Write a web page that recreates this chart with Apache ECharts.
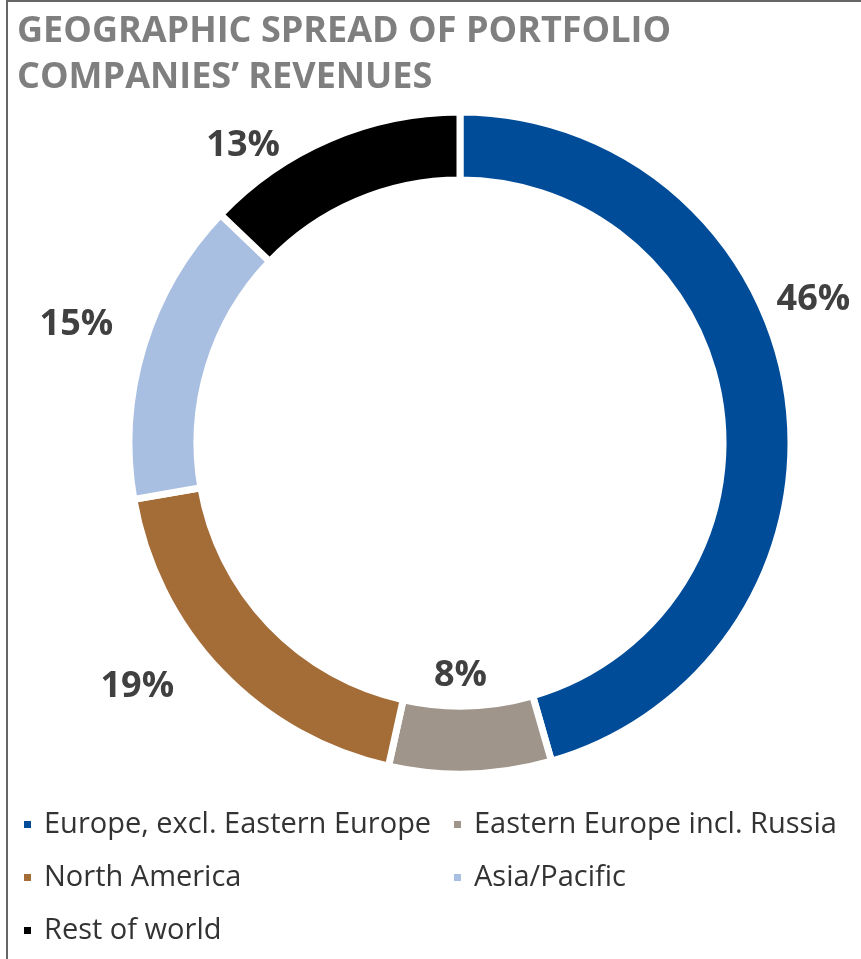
<!DOCTYPE html>
<html>
<head>
<meta charset="utf-8">
<script src="https://cdn.jsdelivr.net/npm/echarts@6/dist/echarts.min.js"></script>
<style>
  html, body { margin: 0; padding: 0; background: #fff; }
  #chart { width: 861px; height: 959px; }
</style>
</head>
<body>
<div id="chart"></div>
<script>
const title = 'GEOGRAPHIC SPREAD OF PORTFOLIO\nCOMPANIES\u2019 REVENUES';
const regions = ['Europe, excl. Eastern Europe', 'Eastern Europe incl. Russia', 'North America', 'Asia/Pacific', 'Rest of world'];
const shares = [46, 8, 19, 15, 13];
const colors = ['#004c99', '#a0958a', '#a46c37', '#a9bfe1', '#000000'];

// label nudges from the default outside position (px)
const labelShift = [[-36, -94], [-42, -118], [-27, 1], [-6, -16], [-37, 25]];

const font = '"Open Sans", "Noto Sans", sans-serif';

let chart = echarts.init(document.getElementById('chart'), null, { renderer: 'canvas' });

let data = regions.map((name, i) => ({
  name: name,
  value: shares[i],
  itemStyle: { color: colors[i] }
}));

let legendText = {
  fontFamily: font,
  fontSize: 29,
  color: '#333333',
  padding: [0, 0, 0, 7]
};

let option = {
  animation: false,
  title: {
    text: title,
    left: 12,
    top: 4,
    textStyle: {
      fontFamily: font,
      fontSize: 36,
      fontWeight: 'bold',
      color: '#7f7f7f',
      lineHeight: 46
    }
  },
  graphic: [
    { type: 'line', shape: { x1: 7, y1: 0, x2: 7, y2: 959 }, style: { stroke: '#666', lineWidth: 2 } },
    { type: 'line', shape: { x1: 6, y1: 1, x2: 861, y2: 1 }, style: { stroke: '#666', lineWidth: 2 } }
  ],
  legend: [
    {
      data: [regions[0], regions[2], regions[4]],
      orient: 'vertical',
      left: 17,
      top: 805,
      itemWidth: 9,
      itemHeight: 9,
      itemGap: 24,
      icon: 'rect',
      selectedMode: false,
      textStyle: legendText
    },
    {
      data: [regions[1], regions[3]],
      orient: 'vertical',
      left: 447,
      top: 805,
      itemWidth: 9,
      itemHeight: 9,
      itemGap: 24,
      icon: 'rect',
      selectedMode: false,
      textStyle: legendText
    }
  ],
  series: [
    {
      type: 'pie',
      center: [460, 443],
      radius: [263, 331],
      startAngle: 90,
      clockwise: true,
      avoidLabelOverlap: false,
      itemStyle: { borderColor: '#fff', borderWidth: 7 },
      label: {
        show: true,
        position: 'outside',
        formatter: '{c}%',
        fontFamily: font,
        fontSize: 36,
        fontWeight: 'bold',
        color: '#404040'
      },
      labelLine: { show: false, length: 20, length2: 0 },
      labelLayout: (params) => ({ dx: labelShift[params.dataIndex][0], dy: labelShift[params.dataIndex][1] }),
      emphasis: { disabled: true },
      data: data
    }
  ]
};

chart.setOption(option);
</script>
</body>
</html>
